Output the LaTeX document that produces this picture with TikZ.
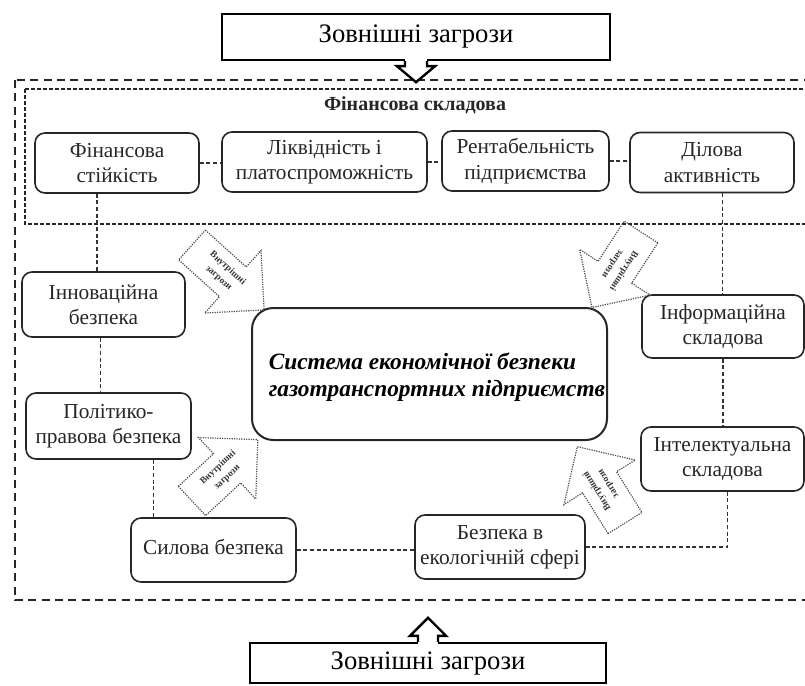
\documentclass[tikz,border=0pt]{standalone}
\usepackage{fontspec}
\setmainfont{Liberation Serif}
\usetikzlibrary{calc}
\newcommand{\thrarrow}[4]{%
  \begin{scope}[shift={#1}, rotate=#2]
    \draw[threatline] (0,-20) -- (#4-42,-20) -- (#4-42,-42) -- (#4,0) -- (#4-42,42) -- (#4-42,20) -- (0,20) -- cycle;
    \node[threattext, transform shape] (#3) at (42,0) {Внутрішні\\загрози};
  \end{scope}}
\begin{document}
\begin{tikzpicture}[x=0.75pt,y=-0.75pt,
  box/.style={draw=black!85, line width=1.2pt, rounded corners=7.5pt, align=center,
    text=black!85, font=\fontsize{16}{19}\selectfont, inner sep=2pt},
  conn/.style={draw=black!80, line width=0.8pt, dash pattern=on 3pt off 2pt},
  outerb/.style={draw=black!85, line width=1.6pt, dash pattern=on 6pt off 4pt},
  innerb/.style={draw=black!85, line width=1.1pt, dash pattern=on 3pt off 1.5pt},
  threatline/.style={draw=black!70, line width=0.9pt, dash pattern=on 0.9pt off 0.9pt, line join=miter},
  threattext/.style={align=center, text=black!80, inner sep=0pt,
    font=\fontsize{7}{10}\selectfont\bfseries},
  ext/.style={draw=black, line width=1.8pt, font=\fontsize{20}{24}\selectfont, inner sep=0pt},
  callout/.style={draw=black, line width=1.8pt, line join=miter}
]
\useasboundingbox (0,0) rectangle (805,685);
\clip (0,0) rectangle (805,685);
\fill[white] (0,0) rectangle (805,685);

% borders
\draw[outerb] (15,80) rectangle (840,600);
\draw[innerb] (25,89) rectangle (840,224);

% external threats (boxes with block-arrow callouts)
\node[ext, minimum width=291pt, minimum height=34.5pt] (et) at (416,37) {Зовнішні загрози};
\fill[white] ($(et.south)+(-11,-3)$) rectangle ($(et.south)+(11,3)$);
\draw[callout] ($(et.south)+(-11,0)$) -- ($(et.south)+(-11,5)$) -- ($(et.south)+(-19,5)$)
  -- ($(et.south)+(0,21)$) -- ($(et.south)+(19,5)$) -- ($(et.south)+(11,5)$) -- ($(et.south)+(11,0)$);
\node[ext, minimum width=267pt, minimum height=30pt] (eb) at (428,663) {Зовнішні загрози};
\fill[white] ($(eb.north)+(-10,-3)$) rectangle ($(eb.north)+(10,3)$);
\draw[callout] ($(eb.north)+(-10,0)$) -- ($(eb.north)+(-10,-6)$) -- ($(eb.north)+(-18,-6)$)
  -- ($(eb.north)+(0,-24)$) -- ($(eb.north)+(18,-6)$) -- ($(eb.north)+(10,-6)$) -- ($(eb.north)+(10,0)$);

% financial component
\node[font=\fontsize{15}{17}\selectfont\bfseries, text=black!85] (fk) at (415,105) {Фінансова складова};
\node[box, minimum width=123pt, minimum height=45pt] (fs) at (117,163) {Фінансова\\стійкість};
\node[box, minimum width=153.75pt, minimum height=45pt] (lp) at (324.5,162) {Ліквідність і\\платоспроможність};
\node[box, minimum width=125.25pt, minimum height=45pt] (rp) at (525.5,161) {Рентабельність\\підприємства};
\node[box, minimum width=123pt, minimum height=45pt] (da) at (712,162.5) {Ділова\\активність};

% side boxes
\node[box, minimum width=122.25pt, minimum height=48.75pt] (ib) at (103.5,304.5) {Інноваційна\\безпека};
\node[box, minimum width=123.75pt, minimum height=49.5pt] (pb) at (108.5,426) {Політико-\\правова безпека};
\node[box, minimum width=123.75pt, minimum height=48pt] (sb) at (213.5,550) {\raisebox{4pt}{Силова безпека}};
\node[box, minimum width=127.5pt, minimum height=48pt] (be) at (500,547) {Безпека в\\екологічній сфері};
\node[box, minimum width=121.5pt, minimum height=47.25pt] (inf) at (723,326.5) {Інформаційна\\складова};
\node[box, minimum width=122.25pt, minimum height=48pt] (ins) at (722.5,459) {Інтелектуальна\\складова};

% central
\node[draw=black!85, line width=1.5pt, rounded corners=16pt, minimum width=266.25pt, minimum height=99pt] (cs) at (429.5,374) {};
\node[font=\fontsize{17.5}{20.5}\selectfont\bfseries\itshape, align=left, text=black] (ct) at (437,377)
  {Система економічної безпеки\\газотранспортних підприємств};

% connectors
\draw[conn] (fs.east) -- (fs.east -| lp.west);
\draw[conn] (lp.east) -- (lp.east -| rp.west);
\draw[conn] (rp.east) -- (rp.east -| da.west);
\draw[conn] ([xshift=-15pt]fs.south) -- ([xshift=-15pt]fs.south |- ib.north);
\draw[conn] ([xshift=-2pt]ib.south) -- ([xshift=-2pt]ib.south |- pb.north);
\draw[conn] ([xshift=34pt]pb.south) -- ([xshift=34pt]pb.south |- sb.north);
\draw[conn] (sb.east) -- (sb.east -| be.west);
\draw[conn] (be.east) -| ([xshift=4pt]ins.south);
\draw[conn] ([xshift=8pt]da.south) -- ([xshift=8pt]da.south |- inf.north);
\draw[conn] (inf.south) -- (inf.south |- ins.north);

% internal threats
\thrarrow{(192,245)}{-42}{t1}{97}
\thrarrow{(641,232)}{237}{t2}{90}
\thrarrow{(192,501)}{43}{t3}{90}
\thrarrow{(625,523)}{122}{t4}{90}
\end{tikzpicture}
\end{document}
